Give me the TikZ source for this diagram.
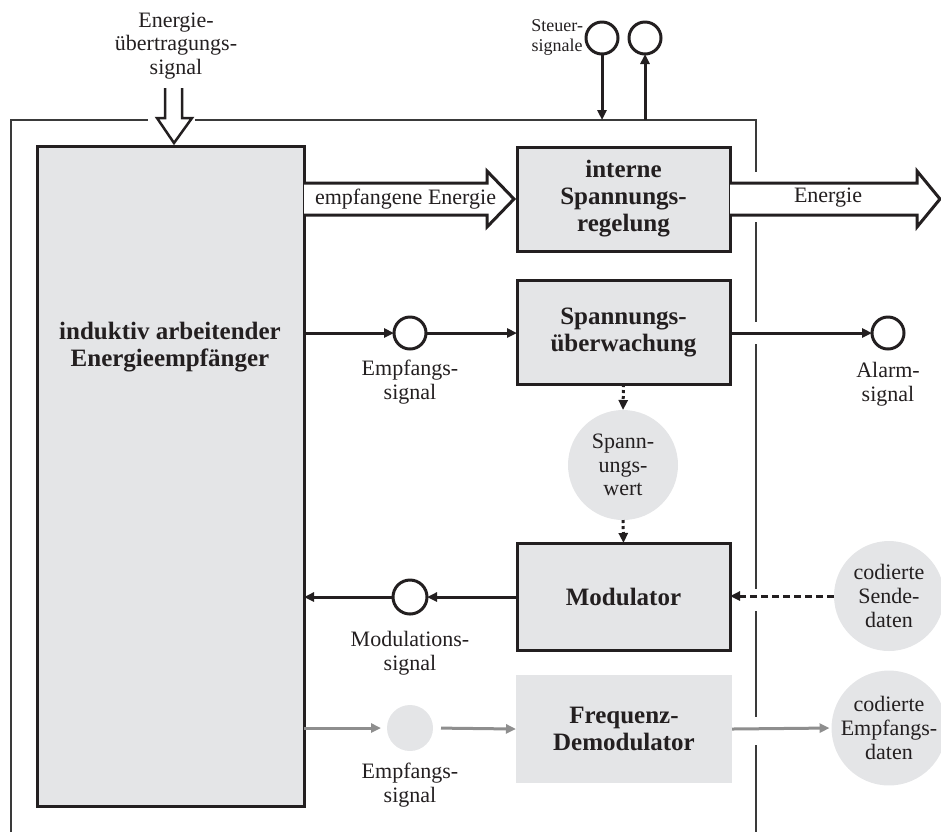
\documentclass[tikz,border=0pt]{standalone}
\usepackage{fontspec}
\setmainfont{Liberation Serif}
\usetikzlibrary{arrows.meta,calc}
\definecolor{boxgray}{HTML}{E4E5E7}
\definecolor{ink}{HTML}{231F20}
\definecolor{wire}{HTML}{8E8E8E}
\definecolor{framecol}{HTML}{3A3A3A}

\begin{document}
\begin{tikzpicture}[x=0.5pt,y=-0.5pt,
  every node/.style={inner sep=0pt, outer sep=0pt},
  lbl/.style={font=\fontsize{11}{11.8}\selectfont, align=center, text=ink},
  small/.style={font=\fontsize{9}{10}\selectfont, align=center, text=ink},
  blk/.style={draw=ink, line width=1.5pt, fill=boxgray, text=ink,
    font=\fontsize{12.5}{13.5}\selectfont\bfseries, align=center,
    minimum width=106.5pt, minimum height=52pt},
  port/.style={circle, draw=ink, line width=1.5pt, fill=white, minimum size=16pt},
  bubble/.style={circle, fill=boxgray, minimum size=55pt, text=ink,
    font=\fontsize{11}{11.8}\selectfont, align=center},
  tip/.style={-{Triangle[length=5pt,width=4.5pt]}},
  sig/.style={tip, line width=1.5pt, draw=ink},
  graysig/.style={tip, line width=1.5pt, draw=wire, shorten >=3pt, shorten <=2pt},
  dotsig/.style={tip, line width=1.5pt, draw=ink, dash pattern=on 1.5pt off 1.5pt},
  dashsig/.style={tip, line width=1.5pt, draw=ink, dash pattern=on 3.5pt off 2pt},
  hollow/.style={draw=ink, fill=white, line width=1.5pt, miter limit=10},
  framestyle/.style={draw=framecol, line width=0.75pt}
]
\useasboundingbox (0,0) rectangle (941,832);

% ---------- outer frame (open at the bottom, broken where signals pass) ----------
\coordinate (ftl) at (11,120);
\coordinate (ftr) at (756,120);
\coordinate (fbl) at (11,832);
\draw[framestyle] (fbl) -- (ftl) -- (148,120);
\draw[framestyle] (195,120) -- (ftr) -- (756,172);
\draw[framestyle] (756,222) -- (756,322);
\draw[framestyle] (756,344) -- (756,589);
\draw[framestyle] (756,611) -- (756,717);
\draw[framestyle] (756,745) -- (756,832);

% ---------- blocks ----------
\node[blk, minimum width=133.5pt, minimum height=330pt] (big) at (170.5,476) {};
\node[font=\fontsize{12.5}{13.5}\selectfont\bfseries, align=center, text=ink]
  (bigtxt) at (170,347) {induktiv arbeitender\\Energieempfänger};
\node[blk] (reg) at (623.5,199) {interne\\Spannungs-\\regelung};
\node[blk] (mon) at (623.5,332) {Spannungs-\\überwachung};
\node[blk, minimum height=53.5pt] (mod) at (623.5,596.5) {Modulator};
\node[blk, draw=none, minimum width=108pt, minimum height=54pt] (demod) at (624,729)
  {Frequenz-\\Demodulator};

% ---------- ports and data bubbles ----------
\node[port] (s1) at (602,38) {};
\node[port] (s2) at (645,38) {};
\node[small, anchor=east] (steuer) at (583,37) {Steuer-\\signale};

\node[port] (e1) at (410,333) {};
\node[lbl] (e1lbl) at (410,382) {Empfangs-\\signal};
\node[port] (al) at (888,333) {};
\node[lbl] (allbl) at (888,384) {Alarm-\\signal};

\node[bubble] (wert) at (623,465) {Spann-\\ungs-\\wert};
\node[port, minimum size=17pt] (m1) at (410,597) {};
\node[lbl] (m1lbl) at (410,653) {Modulations-\\signal};
\node[bubble] (send) at (889,596) {codierte\\Sende-\\daten};

\node[circle, fill=boxgray, minimum size=23pt] (e2) at (410,728) {};
\node[lbl] (e2lbl) at (410,785) {Empfangs-\\signal};
\node[bubble] (recv) at (889,728) {codierte\\Empfangs-\\daten};

% ---------- energy transfer signal entering the receiver ----------
\node[lbl] (esig) at (176,46) {Energie-\\übertragungs-\\signal};
\coordinate (dtip) at (174,143);
\draw[ink, line width=1.25pt, miter limit=10]
  ($(dtip)+(-9,-55)$) -- ($(dtip)+(-9,-25)$) -- ($(dtip)+(-17,-25)$) -- (dtip)
  -- ($(dtip)+(18,-25)$) -- ($(dtip)+(8,-25)$) -- ($(dtip)+(8,-55)$);

% ---------- control signals ----------
\coordinate (c1) at (s1 |- ftr);
\coordinate (c2) at (s2 |- ftr);
\draw[sig] (s1.south) -- (c1);
\draw[sig] (c2) -- (s2.south);

% ---------- received energy (hollow arrow) ----------
\coordinate (ea) at (reg.west -| big.east);
\draw[hollow]
  ($(ea)+(0,-16)$) -- ($(reg.west)+(-30,-16)$) -- ($(reg.west)+(-30,-28)$)
  -- ($(reg.west)+(-3,0)$) -- ($(reg.west)+(-30,28)$) -- ($(reg.west)+(-30,16)$)
  -- ($(ea)+(0,16)$);
\node[lbl] (ealbl) at ($(ea)!0.5!(reg.west)+(-5,0)$) {empfangene Energie};

% ---------- output energy (hollow arrow) ----------
\coordinate (etip) at (940,199);
\draw[hollow]
  ($(reg.east)+(0,-16)$) -- ($(etip)+(-23,-16)$) -- ($(etip)+(-23,-28)$)
  -- (etip) -- ($(etip)+(-23,28)$) -- ($(etip)+(-23,16)$)
  -- ($(reg.east)+(0,16)$);
\node[lbl] (enlbl) at (828,198) {Energie};

% ---------- monitoring path ----------
\draw[sig] (e1 -| big.east) -- (e1.west);
\draw[sig] (e1.east) -- (e1 -| mon.west);
\draw[sig] (al -| mon.east) -- (al.west);
\draw[dotsig] (mon.south) -- (wert.north);
\draw[dotsig] (wert.south) -- (mod.north);

% ---------- modulation path ----------
\draw[dashsig] (send.west) -- (send -| mod.east);
\draw[sig] (m1 -| mod.west) -- (m1.east);
\draw[sig] (m1.west) -- (m1 -| big.east);

% ---------- demodulation path ----------
\draw[graysig, shorten <=0pt] (e2 -| big.east) -- (e2.west);
\draw[graysig, shorten >=0pt, shorten <=4pt] (e2.east) -- (demod.west);
\draw[graysig, shorten <=0pt, shorten >=1pt] (demod.east) -- (recv.west);
\end{tikzpicture}
\end{document}
